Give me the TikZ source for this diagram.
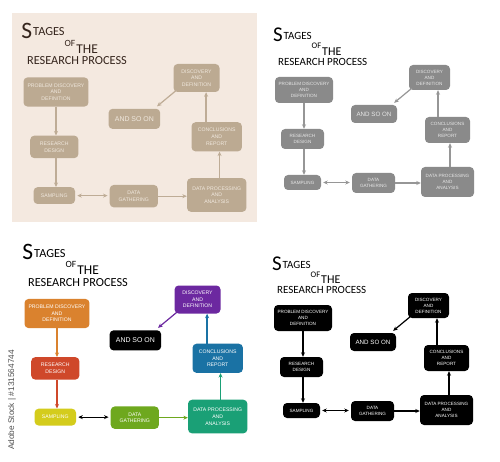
\documentclass[tikz,border=0pt]{standalone}
\usepackage{fontspec}
\setmainfont{Liberation Sans}
\newfontfamily\titlefont{Carlito}
\usetikzlibrary{arrows.meta}

\definecolor{bgbeige}{RGB}{244,233,224}
\definecolor{beigebox}{RGB}{188,170,146}
\definecolor{beigearrow}{RGB}{190,172,150}
\definecolor{beigetxt}{RGB}{240,232,222}
\definecolor{titlebrown}{RGB}{52,36,28}
\definecolor{graybox}{RGB}{138,138,138}
\definecolor{grayarrow}{RGB}{150,150,150}
\definecolor{graytxt}{RGB}{232,232,232}
\definecolor{cprob}{RGB}{218,130,46}
\definecolor{cres}{RGB}{207,72,42}
\definecolor{csamp}{RGB}{212,204,28}
\definecolor{cdg}{RGB}{110,168,30}
\definecolor{cdp}{RGB}{26,160,118}
\definecolor{ccon}{RGB}{26,114,164}
\definecolor{cdisc}{RGB}{108,40,160}
\definecolor{wmgray}{RGB}{80,80,80}

\tikzset{
  stagebox/.style={rounded corners=4pt, inner sep=0pt, align=center, font=\fontsize{4.6}{6}\selectfont},
  asobox/.style={font=\fontsize{6.2}{7}\selectfont},
  flowarrow/.style={line width=1.2pt, -{Stealth[length=4.5pt,width=4pt]}},
  twoway/.style={line width=1.2pt, {Stealth[length=4.5pt,width=4pt]}-{Stealth[length=4.5pt,width=4pt]}, shorten <=2pt, shorten >=2pt},
  titletext/.style={inner sep=0pt, anchor=base west},
  tl box/.style={fill=beigebox, text=beigetxt},
  tl arrow/.style={draw=beigearrow},
  tl title/.style={text=titlebrown},
  tr box/.style={fill=graybox, text=graytxt},
  tr arrow/.style={draw=grayarrow},
  tr title/.style={text=black},
  bl box/.style={fill=#1, text=white},
  bl arrow/.style={draw=#1},
  bl title/.style={text=black},
  br box/.style={fill=black, text=white},
  br arrow/.style={draw=black},
  br title/.style={text=black},
}

\newcommand\stagespanel[4]{%
\begin{scope}[shift={(#2,#3)}, scale=#4, transform shape]
 \node[titletext, #1 title, font=\titlefont\fontsize{21}{21}\selectfont] (#1S) at (23,42) {S};
 \node[titletext, #1 title, font=\titlefont\fontsize{11}{11}\selectfont] (#1tages) at (33.5,40) {TAGES};
 \node[titletext, #1 title, font=\titlefont\fontsize{8.5}{9}\selectfont] (#1of) at (61.5,49) {OF};
 \node[titletext, #1 title, font=\titlefont\fontsize{12}{12}\selectfont] (#1the) at (72,55.5) {THE};
 \node[titletext, #1 title, font=\titlefont\fontsize{11}{11}\selectfont] (#1rp) at (28,65.5) {RESEARCH PROCESS};
 \node[stagebox, #1 box=cprob, minimum width=58pt, minimum height=26pt] (#1prob) at (54,90) {PROBLEM DISCOVERY\\AND\\DEFINITION};
 \node[stagebox, #1 box=cres, minimum width=43pt, minimum height=20pt] (#1res) at (52.5,139) {RESEARCH\\DESIGN};
 \node[stagebox, #1 box=csamp, minimum width=37pt, minimum height=15pt] (#1samp) at (52.5,182.5) {SAMPLING};
 \node[stagebox, #1 box=cdg, minimum width=43pt, minimum height=20pt] (#1dg) at (123.5,183) {DATA\\GATHERING};
 \node[stagebox, #1 box=cdp, minimum width=53pt, minimum height=30pt] (#1dp) at (197.5,182) {DATA PROCESSING\\AND\\ANALYSIS};
 \node[stagebox, #1 box=ccon, minimum width=45pt, minimum height=26pt] (#1con) at (197.5,130) {CONCLUSIONS\\AND\\REPORT};
 \node[stagebox, #1 box=cdisc, minimum width=41pt, minimum height=25pt] (#1disc) at (179.5,77.5) {DISCOVERY\\AND\\DEFINITION};
 \node[stagebox, asobox, #1 box=black, minimum width=46pt, minimum height=18pt] (#1aso) at (124,114) {AND SO ON};
 \draw[flowarrow, #1 arrow=cprob] (#1prob.south) -- (#1prob.south |- #1res.north);
 \draw[flowarrow, #1 arrow=cres] (#1prob.south |- #1res.south) -- (#1prob.south |- #1samp.north);
 \draw[twoway, #1 arrow=black] (#1samp.east) -- (#1samp.east -| #1dg.west);
 \draw[flowarrow, #1 arrow=cdg] (#1dg.east) -- (#1dg.east -| #1dp.west);
 \draw[flowarrow, #1 arrow=cdp] ([xshift=2.5pt]#1dp.north) -- ([xshift=2.5pt]#1dp.north |- #1con.south);
 \draw[flowarrow, #1 arrow=ccon] ([xshift=-9.5pt]#1con.north) -- ([xshift=-9.5pt]#1con.north |- #1disc.south);
 \draw[flowarrow, #1 arrow=cdisc] ([shift={(3,-2)}]#1disc.south west) -- ([shift={(-3,-2)}]#1aso.north east);
\end{scope}}

\begin{document}
\begin{tikzpicture}[x=1pt, y=-1pt]
 \fill[white] (0,0) rectangle (500,462);
 \useasboundingbox (0,0) rectangle (500,462);
 \fill[bgbeige] (12,13) rectangle (257,222);
 \stagespanel{tl}{-4.5}{-8.8}{1.12}
 \stagespanel{tr}{250}{0}{1}
 \stagespanel{bl}{-3.5}{212.7}{1.12}
 \stagespanel{br}{249}{228}{1}
 \node[rotate=90, text=wmgray, font=\fontsize{8.3}{9}\selectfont, inner sep=0pt] (stockid) at (12,400) {Adobe Stock | \#131564744};
\end{tikzpicture}
\end{document}
